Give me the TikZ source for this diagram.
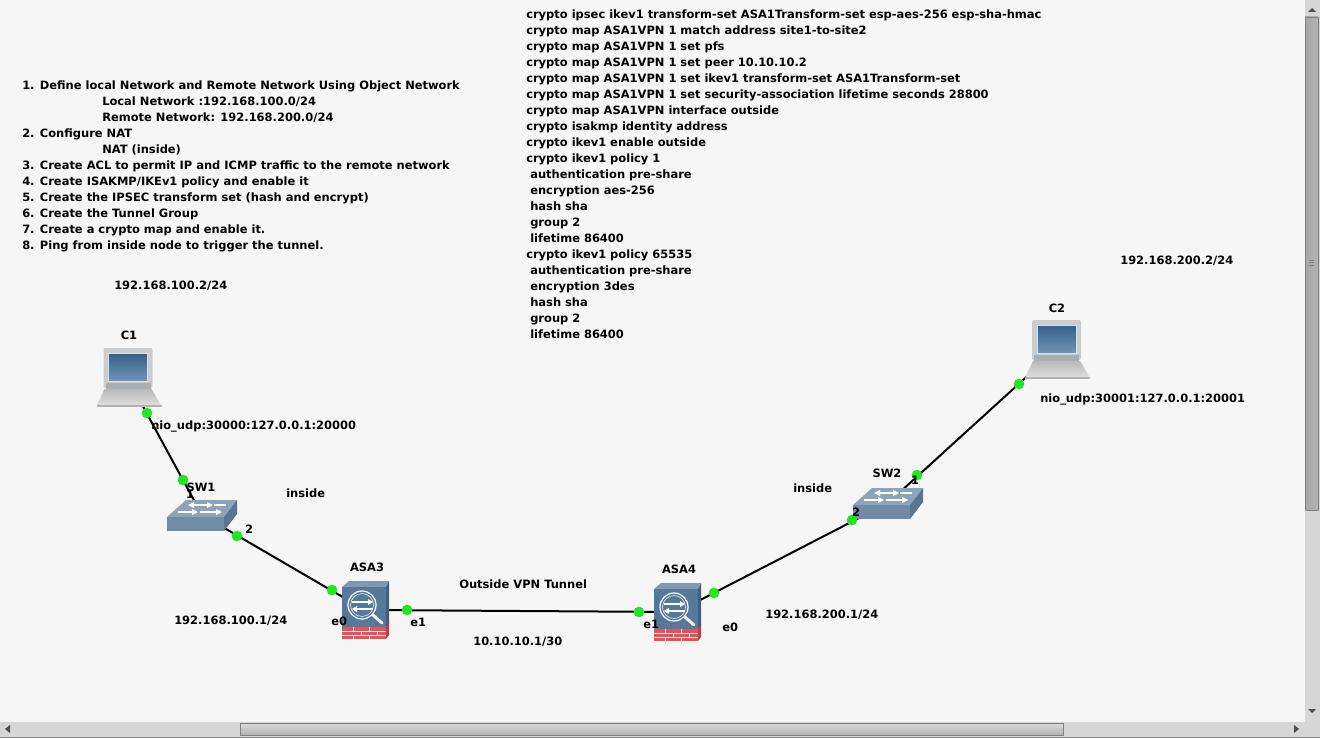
\documentclass[tikz,border=0pt]{standalone}
\usepackage{fontspec}
\setmainfont{DejaVu Sans}
\definecolor{canvasbg}{HTML}{F6F6F6}
\definecolor{sbtrack}{HTML}{D6D6D6}
\definecolor{sbthumb}{HTML}{B4B4B4}
\definecolor{sbedge}{HTML}{808080}
\definecolor{portgreen}{HTML}{22E622}
\definecolor{swtop}{HTML}{8CA4BA}
\definecolor{swfront}{HTML}{6F8BA6}
\definecolor{swside}{HTML}{587690}
\definecolor{asafront}{HTML}{56799B}
\definecolor{asatop}{HTML}{7F9AB4}
\definecolor{asaside}{HTML}{3F5F7E}
\definecolor{brick}{HTML}{E8505A}
\definecolor{brickside}{HTML}{B8404A}
\definecolor{screenblue}{HTML}{3F709F}
\definecolor{bezel}{HTML}{C9CDD0}
\usetikzlibrary{calc}
\tikzset{
  x=0.75pt, y=-0.75pt,
  txt/.style={anchor=west, inner sep=0pt, font=\fontsize{8.6pt}{11pt}\selectfont\bfseries, text=black, text height=7.5pt, text depth=0.5pt},
  lab/.style={txt, anchor=center},
  dev/.style={inner sep=0pt, outer sep=0pt, minimum size=1pt},
  link/.style={draw=black, line width=1.5pt},
  port/.style={circle, fill=portgreen, draw=none, minimum size=8pt, inner sep=0pt},
  computer/.pic={
    \fill[bezel, rounded corners=1.5pt] (-24,-30) rectangle (25,10);
    \shade[top color=screenblue!85!black, bottom color=screenblue!75!white] (-19,-25) rectangle (20,3);
    \draw[white!80!screenblue, line width=.4pt] (-19,-25) rectangle (20,3);
    \fill[bezel!85!black] (-22,5) rectangle (23,11);
    \shade[top color=gray!55, bottom color=gray!25] (-23,11) -- (24,11) -- (34,28) -- (-31,28) -- cycle;
    \fill[gray!60] (-31,27) rectangle (34,29);
  },
  switchicon/.pic={
    \fill[swtop] (-16,-15) -- (35,-15) -- (22,2) -- (-35,2) -- cycle;
    \fill[swfront] (-35,2) rectangle (22,16);
    \fill[swside] (35,-15) -- (35,-1) -- (22,16) -- (22,2) -- cycle;
    \draw[white, line width=1.1pt] (-8,-10) -- (5,-10) (12,-10) -- (24,-10) (-24,-3) -- (-10,-3) (-2,-3) -- (14,-3);
    \fill[white] (5,-13) -- (11,-10) -- (5,-7) -- cycle;
    \fill[white] (-8,-13) -- (-14,-10) -- (-8,-7) -- cycle;
    \fill[white] (-10,-6) -- (-4,-3) -- (-10,0) -- cycle;
    \fill[white] (14,-6) -- (20,-3) -- (14,0) -- cycle;
  },
  asaicon/.pic={
    \fill[asatop] (-23,-23) -- (-16,-29) -- (24,-29) -- (21,-23) -- cycle;
    \fill[asaside] (21,-23) -- (24,-29) -- (24,14) -- (21,17) -- cycle;
    \fill[asafront] (-23,-23) rectangle (21,17);
    \fill[brick] (-23,17) rectangle (21,29);
    \fill[brickside] (21,17) -- (24,12) -- (24,25) -- (21,29) -- cycle;
    \draw[white!85!brick, line width=.5pt] (-23,21) -- (21,21) (-23,25) -- (21,25)
      (-12,17) -- (-12,21) (4,17) -- (4,21) (-4,21) -- (-4,25) (12,21) -- (12,25) (-12,25) -- (-12,29) (4,25) -- (4,29);
    \draw[white, line width=.9pt] (-3,-5) circle (14);
    \draw[white!85!asafront, line width=.5pt] (-3,-5) circle (11.5);
    \draw[white!90!asafront, line width=2.2pt, line cap=round] (8,5) -- (17,13);
    \draw[white, line width=1pt] (-13,-8) -- (3,-8);
    \fill[white] (3,-11) -- (8,-8) -- (3,-5) -- cycle;
    \draw[white, line width=1pt] (-8,-1) -- (8,-1);
    \fill[white] (-8,-4) -- (-13,-1) -- (-8,2) -- cycle;
  }
}
\begin{document}
\begin{tikzpicture}
\useasboundingbox (0,0) rectangle (1320,738);
\fill[canvasbg] (0,0) rectangle (1320,738);

% scrollbars
\fill[sbtrack] (1305,0) rectangle (1320,738);
\fill[sbtrack] (0,722) rectangle (1320,738);
\fill[sbedge] (0,737) rectangle (1320,738);
\shade[left color=sbedge!70!white, right color=sbthumb, draw=sbedge, line width=.4pt] (1305,17) rectangle (1318,510);
\shade[top color=sbthumb!50!white, bottom color=sbthumb, draw=sbedge, line width=.4pt] (240,723) rectangle (1063,735);
\draw[sbedge, line width=.4pt] (1309,260) -- (1314,260) (1309,262.5) -- (1314,262.5) (1309,265) -- (1314,265);
\fill[black!70] (1312,8) -- (1308,12) -- (1316,12) -- cycle;
\fill[black!70] (1312,713) -- (1308,709) -- (1316,709) -- cycle;
\fill[black!70] (5,729) -- (10,725) -- (10,733) -- cycle;
\fill[black!70] (1299,729) -- (1294,725) -- (1294,733) -- cycle;

% device anchors
\node[dev] (c1) at (127.5,378) {};
\node[dev] (c2) at (1056,350) {};
\node[dev] (sw1) at (202,515) {};
\node[dev] (sw2) at (888,503) {};
\node[dev] (asa3) at (365,610) {};
\node[dev] (asa4) at (677,612) {};

% links
\draw[link] (c1) -- (sw1);
\draw[link] (sw1) -- (asa3);
\draw[link] (asa3) -- (asa4);
\draw[link] (asa4) -- (sw2);
\draw[link] (sw2) -- (c2);

% icons
\pic at (c1) {computer};
\pic at (c2) {computer};
\pic at (sw1) {switchicon};
\pic at (sw2) {switchicon};
\pic at (asa3) {asaicon};
\pic at (asa4) {asaicon};

% ports
\node[port] (p1) at (147,413) {};
\node[port] (p2) at (183,480) {};
\node[port] (p3) at (237,536) {};
\node[port] (p4) at (332,590) {};
\node[port] (p5) at (407,610) {};
\node[port] (p6) at (639,612) {};
\node[port] (p7) at (714,593) {};
\node[port] (p8) at (852,520) {};
\node[port] (p9) at (917,475) {};
\node[port] (p10) at (1019,384) {};

% steps
\node[txt] (s1) at (22,85) {1. Define local Network and Remote Network Using Object Network};
\node[txt] (s2) at (102,101) {Local Network :192.168.100.0/24};
\node[txt] (s3) at (102,117) {Remote Network: 192.168.200.0/24};
\node[txt] (s4) at (22,133) {2. Configure NAT};
\node[txt] (s5) at (102,149) {NAT (inside)};
\node[txt] (s6) at (22,165) {3. Create ACL to permit IP and ICMP traffic to the remote network};
\node[txt] (s7) at (22,181) {4. Create ISAKMP/IKEv1 policy and enable it};
\node[txt] (s8) at (22,197) {5. Create the IPSEC transform set (hash and encrypt)};
\node[txt] (s9) at (22,213) {6. Create the Tunnel Group};
\node[txt] (s10) at (22,229) {7. Create a crypto map and enable it.};
\node[txt] (s11) at (22,245) {8. Ping from inside node to trigger the tunnel.};

% config
\node[txt] (k1) at (526,14) {crypto ipsec ikev1 transform-set ASA1Transform-set esp-aes-256 esp-sha-hmac};
\node[txt] (k2) at (526,30) {crypto map ASA1VPN 1 match address site1-to-site2};
\node[txt] (k3) at (526,46) {crypto map ASA1VPN 1 set pfs};
\node[txt] (k4) at (526,62) {crypto map ASA1VPN 1 set peer 10.10.10.2};
\node[txt] (k5) at (526,78) {crypto map ASA1VPN 1 set ikev1 transform-set ASA1Transform-set};
\node[txt] (k6) at (526,94) {crypto map ASA1VPN 1 set security-association lifetime seconds 28800};
\node[txt] (k7) at (526,110) {crypto map ASA1VPN interface outside};
\node[txt] (k8) at (526,126) {crypto isakmp identity address};
\node[txt] (k9) at (526,142) {crypto ikev1 enable outside};
\node[txt] (k10) at (526,158) {crypto ikev1 policy 1};
\node[txt] (k11) at (530,174) {authentication pre-share};
\node[txt] (k12) at (530,190) {encryption aes-256};
\node[txt] (k13) at (530,206) {hash sha};
\node[txt] (k14) at (530,222) {group 2};
\node[txt] (k15) at (530,238) {lifetime 86400};
\node[txt] (k16) at (526,254) {crypto ikev1 policy 65535};
\node[txt] (k17) at (530,270) {authentication pre-share};
\node[txt] (k18) at (530,286) {encryption 3des};
\node[txt] (k19) at (530,302) {hash sha};
\node[txt] (k20) at (530,318) {group 2};
\node[txt] (k21) at (530,334) {lifetime 86400};

% diagram labels
\node[txt] (l1) at (114,285) {192.168.100.2/24};
\node[lab] (l2) at (129,335) {C1};
\node[txt] (l3) at (151,425) {nio\_udp:30000:127.0.0.1:20000};
\node[lab] (l4) at (201,487) {SW1};
\node[lab] (l5) at (190,494) {1};
\node[txt] (l6) at (286,493) {inside};
\node[lab] (l7) at (249,529) {2};
\node[lab] (l8) at (367,567) {ASA3};
\node[txt] (l9) at (174,620) {192.168.100.1/24};
\node[txt] (l10) at (331,621) {e0};
\node[txt] (l11) at (410,622) {e1};
\node[txt] (l12) at (459,584) {Outside VPN Tunnel};
\node[txt] (l13) at (473,641) {10.10.10.1/30};
\node[lab] (l14) at (679,569) {ASA4};
\node[txt] (l15) at (643,624) {e1};
\node[txt] (l16) at (722,627) {e0};
\node[txt] (l17) at (765,614) {192.168.200.1/24};
\node[txt] (l18) at (793,488) {inside};
\node[lab] (l19) at (887,473) {SW2};
\node[lab] (l20) at (915,480) {1};
\node[lab] (l21) at (856,512) {2};
\node[lab] (l22) at (1057,308) {C2};
\node[txt] (l23) at (1040,398) {nio\_udp:30001:127.0.0.1:20001};
\node[txt] (l24) at (1120,260) {192.168.200.2/24};
\end{tikzpicture}
\end{document}
